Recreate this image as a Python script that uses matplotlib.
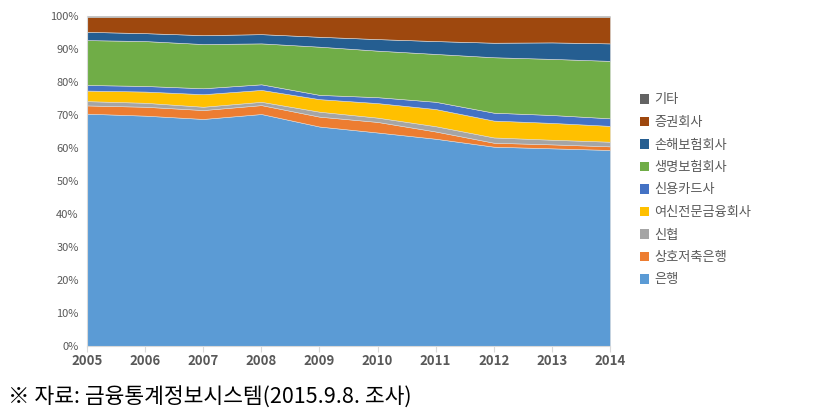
import matplotlib

matplotlib.use("Agg")

import matplotlib.pyplot as plt
from matplotlib.patches import Patch
from matplotlib.ticker import PercentFormatter

plt.rcParams["font.family"] = ["Noto Sans CJK KR", "DejaVu Sans"]

years = [2005, 2006, 2007, 2008, 2009, 2010, 2011, 2012, 2013, 2014]
series_names = ["은행", "상호저축은행", "신협", "여신전문금융회사", "신용카드사",
                "생명보험회사", "손해보험회사", "증권회사", "기타"]

bank = [70.4, 69.8, 68.8, 70.3, 66.5, 64.7, 62.8, 60.4, 59.9, 59.4]
savings_bank = [2.5, 2.7, 2.7, 2.7, 3.0, 3.2, 2.2, 1.2, 1.2, 1.1]
credit_union = [1.3, 1.2, 1.0, 1.0, 1.5, 1.3, 1.6, 1.6, 1.4, 1.4]
specialized_credit = [3.2, 3.4, 3.8, 3.6, 3.8, 4.4, 5.2, 5.1, 5.1, 4.8]
credit_card = [1.7, 1.7, 1.8, 1.7, 1.3, 1.8, 2.2, 2.4, 2.4, 2.3]
life_insurance = [13.6, 13.6, 13.4, 12.4, 14.6, 14.1, 14.5, 16.8, 17.0, 17.4]
nonlife_insurance = [2.5, 2.4, 2.7, 2.8, 3.0, 3.5, 3.9, 4.4, 5.0, 5.3]
securities = [4.5, 4.9, 5.5, 5.2, 6.0, 6.7, 7.3, 7.8, 7.7, 8.0]
other = [0.3, 0.3, 0.3, 0.3, 0.3, 0.3, 0.3, 0.3, 0.3, 0.3]

colors = ["#5B9BD5", "#ED7D31", "#A5A5A5", "#FFC000", "#4472C4",
          "#70AD47", "#255E91", "#9E480E", "#636363"]

fig = plt.figure(figsize=(8.4, 4.16), dpi=100)
ax = fig.add_axes([87 / 840, 1 - 346 / 416, (610 - 87) / 840, (346 - 16) / 416])

ax.stackplot(years, bank, savings_bank, credit_union, specialized_credit, credit_card,
             life_insurance, nonlife_insurance, securities, other,
             colors=colors, edgecolor="#d9d9d9", linewidth=0.4)

ax.set_xlim(years[0], years[-1])
ax.set_ylim(0, 100)
ax.set_xticks(years)
ax.set_yticks(range(0, 101, 10))
ax.yaxis.set_major_formatter(PercentFormatter(decimals=0))
ax.tick_params(axis="x", colors="#595959", labelsize=9.5, length=4, color="#d9d9d9", pad=2)
ax.tick_params(axis="y", colors="#595959", labelsize=8, length=0, pad=6)
for lbl in ax.get_xticklabels():
    lbl.set_fontweight("bold")
for side in ["top", "right"]:
    ax.spines[side].set_visible(False)
for side in ["left", "bottom"]:
    ax.spines[side].set_color("#d9d9d9")

handles = [Patch(facecolor=c, edgecolor="none") for c in colors]
leg = fig.legend(handles[::-1], series_names[::-1], loc="center left",
                 bbox_to_anchor=(628 / 840, 1 - 190 / 416), frameon=False,
                 fontsize=9.5, handlelength=0.7, handleheight=0.7,
                 handletextpad=0.4, labelspacing=0.72)
for text in leg.get_texts():
    text.set_color("#595959")

fig.text(8 / 840, 1 - 398 / 416, "※ 자료: 금융통계정보시스템(2015.9.8. 조사)",
         fontsize=15.5, va="center", ha="left", color="#000000")

fig.savefig("out.png", dpi=100)
